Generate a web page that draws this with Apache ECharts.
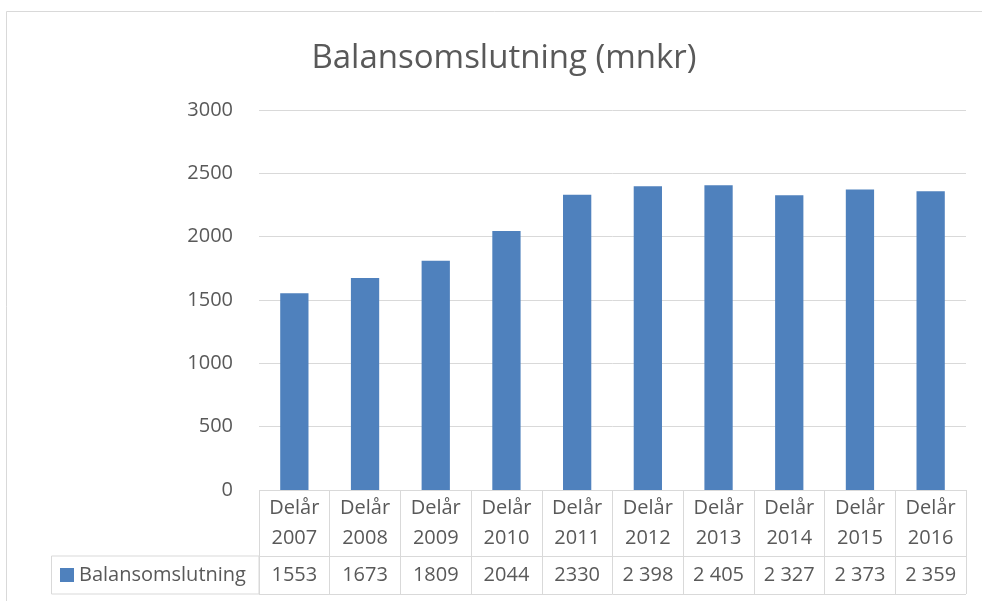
<!DOCTYPE html>
<html>
<head>
<meta charset="utf-8">
<script src="https://cdn.jsdelivr.net/npm/echarts@6/dist/echarts.min.js"></script>
<style>
  html, body { margin: 0; padding: 0; background: #fff; overflow: hidden; }
  #chart { width: 982px; height: 601px; }
</style>
</head>
<body>
<div id="chart"></div>
<script>
// data
const years = ['2007', '2008', '2009', '2010', '2011', '2012', '2013', '2014', '2015', '2016'];
const values = [1553, 1673, 1809, 2044, 2330, 2398, 2405, 2327, 2373, 2359];
// the table prints the later years with a space as thousands separator
const tableLabels = ['1553', '1673', '1809', '2044', '2330', '2 398', '2 405', '2 327', '2 373', '2 359'];
const seriesName = 'Balansomslutning';
const titleText = 'Balansomslutning (mnkr)';

const categories = years.map(y => 'Delår\n' + y);
const textColor = '#595959';
const lineColor = '#d9d9d9';
const font = 'Open Sans';

const chart = echarts.init(document.getElementById('chart'));

// table rows share the plot's left/right so columns line up with the bars
const tableAxis = (gridIndex, labels, margin, lineHeight) => ({
  type: 'category',
  gridIndex: gridIndex,
  data: categories,
  boundaryGap: true,
  axisLine: { show: false },
  axisTick: { show: false },
  splitLine: { show: true, lineStyle: { color: lineColor, width: 1 } },
  axisLabel: {
    inside: true,
    margin: margin,
    interval: 0,
    color: textColor,
    fontFamily: font,
    fontSize: 20,
    lineHeight: lineHeight,
    verticalAlign: 'middle',
    formatter: (v, i) => labels[i]
  }
});
const tableY = (gridIndex) => ({
  type: 'value',
  gridIndex: gridIndex,
  min: 0,
  max: 1,
  interval: 1,
  axisLine: { show: false },
  axisTick: { show: false },
  axisLabel: { show: false },
  splitLine: { show: true, lineStyle: { color: lineColor, width: 1 } }
});

const option = {
  animation: false,
  backgroundColor: '#fff',
  textStyle: { fontFamily: font },
  title: {
    text: titleText,
    left: 499,
    textAlign: 'center',
    top: 37,
    textStyle: { color: textColor, fontFamily: font, fontSize: 33, fontWeight: 'normal' }
  },
  legend: {
    data: [seriesName],
    left: 60,
    top: 565,
    padding: 0,
    icon: 'rect',
    itemWidth: 14,
    itemHeight: 14,
    textStyle: { color: textColor, fontFamily: font, fontSize: 20, lineHeight: 20 }
  },
  grid: [
    { left: 259, right: 16, top: 110, height: 380 },
    { left: 259, right: 16, top: 490, height: 66 },
    { left: 259, right: 16, top: 556, height: 38 }
  ],
  xAxis: [
    {
      type: 'category',
      gridIndex: 0,
      data: categories,
      axisLine: { show: false },
      axisTick: { show: false },
      axisLabel: { show: false }
    },
    tableAxis(1, categories, 33, 30),
    tableAxis(2, tableLabels, 19, 24)
  ],
  yAxis: [
    {
      type: 'value',
      gridIndex: 0,
      min: 0,
      max: 3000,
      interval: 500,
      axisLine: { show: false },
      axisTick: { show: false },
      axisLabel: {
        color: textColor,
        fontFamily: font,
        fontSize: 20,
        margin: 26,
        formatter: v => String(v)
      },
      splitLine: { lineStyle: { color: lineColor, width: 1 } }
    },
    tableY(1),
    tableY(2)
  ],
  graphic: [
    // outer chart border: only the left and top edges fall inside the picture
    { type: 'polyline', shape: { points: [[6.5, 700], [6.5, 11.5], [1100, 11.5]] },
      style: { fill: null, stroke: lineColor, lineWidth: 1 }, silent: true },
    // legend cell of the data table
    { type: 'rect', shape: { x: 51.5, y: 556, width: 207.5, height: 38 },
      style: { fill: 'none', stroke: lineColor, lineWidth: 1 }, silent: true }
  ],
  series: [
    {
      name: seriesName,
      type: 'bar',
      xAxisIndex: 0,
      yAxisIndex: 0,
      data: values,
      barCategoryGap: '60%',
      itemStyle: { color: '#4f81bd' }
    }
  ]
};

chart.setOption(option);
</script>
</body>
</html>
